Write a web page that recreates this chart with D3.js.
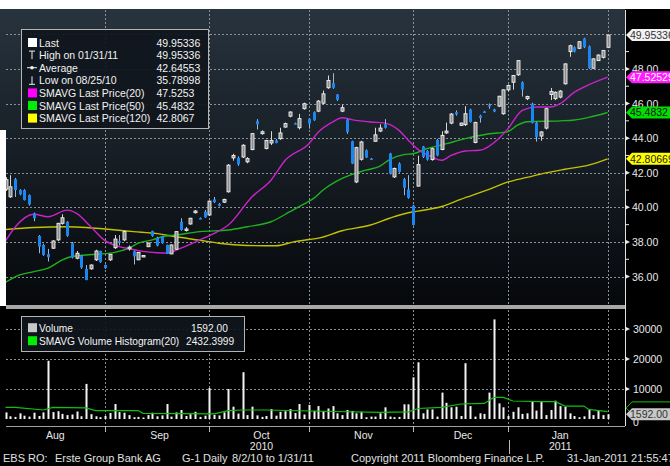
<!DOCTYPE html>
<html>
<head>
<meta charset="utf-8">
<title>EBS RO Equity</title>
<script src="https://cdn.jsdelivr.net/npm/d3@7"></script>
<style>
    body { margin: 0; background: #fff; }
    svg { display: block; font-family: "Liberation Sans", Arial, sans-serif; }
</style>
</head>
<body>
<svg id="chart" width="670" height="466"></svg>
<script>
// trading days per month, Aug 2010 .. Jan 2011
const months = ['Aug', 'Sep', 'Oct', 'Nov', 'Dec', 'Jan'];
const monthDays = [22, 22, 21, 22, 20, 21];
const yearLabels = [{ text: '2010', month: 2 }, { text: '2011', month: 5 }];

const open = [
    41.05, 40.61, 41.63, 41.0, 41.0, 40.71, 39.65, 38.35, 37.83, 37.3,
    37.64, 38.12, 39.08, 39.17, 37.93, 37.06, 37.21, 36.45, 36.45, 36.97,
    37.48, 36.67, 36.97, 37.67, 38.05, 38.12, 37.6, 37.46, 36.97, 37.2,
    37.73, 38.64, 38.24, 38.33, 37.83, 37.31, 37.58, 39.17, 38.7, 39.04,
    39.69, 39.38, 39.75, 39.56, 40.46, 40.2, 40.3, 40.9, 42.86, 42.86,
    42.91, 42.63, 43.34, 44.99, 44.26, 43.4, 43.72, 43.87, 43.97, 44.64,
    45.27, 44.86, 44.6, 45.7, 45.12, 45.5, 45.56, 46.02, 46.91, 47.17,
    46.52, 45.56, 45.07, 43.82, 41.47, 42.78, 43.3, 42.82, 43.82, 44.41,
    44.8, 43.11, 41.76, 42.53, 41.63, 41.03, 40.1, 41.23, 43.52, 43.26,
    42.76, 43.9, 43.34, 44.3, 44.87, 45.5, 44.74, 44.78, 45.66, 43.75,
    45.3, 45.54, 45.93, 45.66, 45.85, 45.41, 46.79, 47.23, 47.66, 47.23,
    46.28, 45.99, 44.89, 44.12, 44.58, 46.52, 46.28, 46.37, 47.14, 49.0,
    49.25, 49.19, 49.76, 49.3, 48.04, 48.48, 48.67, 49.25
];
const high = [
    41.75, 41.86, 41.7, 41.05, 41.05, 40.75, 39.7, 38.4, 37.9, 37.6,
    38.1, 39.1, 39.6, 39.2, 38.0, 37.48, 37.25, 36.67, 36.7, 37.55,
    37.5, 36.7, 37.3, 38.4, 38.4, 38.65, 37.8, 37.5, 37.4, 37.25,
    37.95, 38.65, 38.3, 38.35, 37.85, 37.85, 38.62, 39.37, 38.86, 39.4,
    39.85, 39.42, 39.85, 40.4, 40.6, 40.25, 40.5, 42.5, 43.1, 42.95,
    43.65, 42.9, 44.3, 45.1, 44.45, 43.9, 44.4, 43.95, 44.6, 44.9,
    45.55, 44.9, 45.4, 46.05, 45.15, 45.55, 46.2, 46.75, 47.62, 47.75,
    46.55, 45.95, 45.1, 43.85, 43.5, 43.85, 43.35, 42.85, 44.6, 44.8,
    45.1, 43.15, 42.3, 42.6, 41.7, 41.86, 40.15, 42.99, 43.55, 43.3,
    43.45, 43.95, 44.4, 44.9, 45.45, 45.6, 44.9, 45.85, 45.7, 44.95,
    45.35, 45.58, 46.0, 45.7, 46.45, 46.82, 47.1, 47.65, 48.5, 47.28,
    46.45, 46.05, 44.95, 44.4, 45.75, 46.9, 46.7, 46.78, 48.32, 49.4,
    49.3, 49.6, 49.8, 49.35, 48.62, 48.85, 49.1, 49.95336
];
const low = [
    40.95, 40.55, 40.6, 40.7, 40.4, 40.1, 39.2, 37.35, 37.2, 36.87,
    37.6, 38.05, 39.0, 38.3, 37.05, 37.0, 36.45, 35.79, 36.4, 36.9,
    36.8, 36.45, 36.9, 37.6, 37.8, 38.05, 37.5, 36.7, 36.95, 37.15,
    37.7, 38.3, 37.75, 37.9, 37.3, 37.3, 37.55, 38.65, 38.6, 39.0,
    39.65, 39.33, 39.4, 39.5, 40.25, 40.05, 40.25, 40.85, 42.7, 42.4,
    42.85, 42.55, 43.3, 44.5, 44.2, 43.35, 43.6, 43.7, 43.9, 44.6,
    45.2, 44.8, 44.5, 45.65, 44.55, 45.0, 45.5, 45.95, 46.85, 46.85,
    46.15, 45.5, 44.25, 42.5, 41.4, 42.7, 42.85, 42.75, 43.8, 44.35,
    44.55, 41.9, 41.7, 42.0, 40.7, 40.5, 38.95, 41.2, 42.85, 42.7,
    42.7, 42.95, 43.3, 44.25, 44.8, 45.3, 44.7, 44.7, 44.9, 43.7,
    44.9, 45.48, 45.7, 45.5, 45.8, 45.35, 46.7, 46.8, 47.6, 46.4,
    46.2, 44.85, 43.8, 43.85, 44.5, 46.2, 46.2, 46.3, 47.1, 48.7,
    48.95, 49.15, 49.2, 48.0, 48.0, 48.45, 48.6, 49.2
];
const close = [
    41.6, 41.19, 41.0, 40.75, 40.42, 40.17, 39.37, 37.73, 37.25, 37.12,
    38.06, 39.08, 39.4, 38.36, 37.1, 37.35, 36.52, 35.8, 36.67, 37.48,
    36.83, 36.49, 37.29, 38.17, 37.98, 38.6, 37.7, 37.17, 37.39, 37.22,
    37.94, 38.35, 37.79, 37.93, 37.31, 37.83, 38.6, 38.69, 38.75, 39.37,
    39.79, 39.36, 39.42, 40.36, 40.3, 40.1, 40.46, 42.44, 43.0, 42.49,
    43.59, 42.82, 44.26, 44.8, 44.37, 43.87, 43.87, 43.72, 44.3, 44.84,
    45.51, 44.84, 45.13, 45.99, 44.84, 45.03, 46.14, 46.56, 47.33, 46.91,
    46.22, 45.76, 44.35, 42.53, 43.45, 43.78, 42.88, 42.78, 44.19, 44.58,
    44.6, 41.96, 42.25, 42.05, 41.13, 40.55, 38.98, 42.47, 42.91, 42.76,
    43.39, 43.0, 44.16, 44.41, 45.39, 45.37, 44.87, 45.41, 44.93, 44.9,
    45.16, 45.5, 45.83, 45.54, 46.42, 46.79, 47.04, 47.62, 48.48, 46.81,
    46.41, 44.89, 44.06, 44.36, 45.7, 46.7, 46.65, 46.72, 48.29, 49.34,
    49.0, 49.57, 49.25, 48.04, 48.58, 48.8, 49.06, 49.95336
];
const volume = [
    2200, 900, 700, 1900, 1100, 800, 2100, 1000, 2200, 19400,
    2300, 2600, 1700, 1300, 1500, 2500, 900, 11700, 1600, 900,
    600, 1000, 2000, 5000, 2300, 2100, 1300, 600, 700, 500,
    1300, 2100, 900, 1200, 5000, 800, 2200, 3000, 1000, 1600,
    2400, 700, 1100, 10300, 1400, 1200, 2200, 10000, 4100, 1800,
    15600, 1300, 4100, 1200, 700, 1000, 3300, 1100, 2400, 2600,
    3300, 2000, 5000, 1500, 4700, 2700, 4300, 2600, 3500, 4300,
    1900, 1300, 3000, 2700, 1900, 2400, 600, 800, 800, 1900,
    3900, 800, 600, 700, 4900, 4900, 13900, 18900, 1900, 3200,
    3200, 800, 8800, 5400, 3900, 4100, 1000, 18600, 4300, 800,
    1900, 1700, 8800, 33200, 5200, 3900, 1000, 2400, 3900, 1700,
    1900, 5800, 2800, 6000, 1300, 3000, 6100, 4300, 4100, 1900,
    1000, 600, 900, 3000, 1300, 2800, 1300, 1592
];

// moving averages: [day index, value]
const sma20 = [
    [0, 38.05], [2, 38.85], [6, 39.6], [9, 39.46], [13, 39.84], [15, 39.65], [18, 38.88],
    [21, 38.08], [24, 37.73], [26, 37.62], [29, 37.46], [32, 37.38], [34, 37.36], [37, 37.64],
    [41, 38.12], [44, 38.5], [47, 38.98], [52, 40.61], [56, 41.57], [59, 42.72], [64, 43.68],
    [66, 44.35], [69, 44.93], [71, 45.18], [73, 45.07], [77, 44.93], [80, 44.87], [83, 44.45],
    [85, 43.87], [87, 43.35], [90, 42.91], [92, 42.72], [94, 43.0], [97, 43.26], [100, 43.3],
    [104, 43.97], [106, 44.55], [109, 45.6], [112, 45.8], [115, 45.8], [117, 46.0],
    [120, 46.66], [123, 47.08], [127, 47.5253]
];
const sma50 = [
    [0, 35.67], [3, 36.1], [6, 36.29], [9, 36.49], [12, 36.97], [14, 37.16], [17, 37.25],
    [20, 37.3], [23, 37.4], [26, 37.64], [28, 37.93], [31, 38.12], [33, 38.3], [36, 38.4],
    [41, 38.6], [47, 38.69], [51, 38.88], [56, 39.17], [60, 39.75], [63, 40.2], [65, 40.52],
    [67, 41.0], [71, 41.67], [76, 42.15], [79, 42.38], [81, 42.76], [84, 43.05], [86, 43.1],
    [89, 43.4], [93, 43.68], [97, 43.97], [102, 44.25], [106, 44.38], [108, 44.75],
    [110, 44.95], [117, 45.0], [120, 45.05], [123, 45.2], [127, 45.4832]
];
const sma120 = [
    [0, 38.72], [6, 38.84], [13, 38.88], [17, 38.84], [21, 38.75], [27, 38.6], [32, 38.48],
    [36, 38.3], [41, 38.1], [45, 37.93], [51, 37.8], [57, 37.78], [61, 38.02], [64, 38.14],
    [66, 38.22], [71, 38.65], [77, 38.98], [81, 39.37], [85, 39.69], [87, 39.78], [92, 40.05],
    [96, 40.46], [102, 41.04], [106, 41.47], [110, 41.73], [114, 41.99], [118, 42.2],
    [123, 42.44], [127, 42.8067]
];
const volSma20 = [
    [0, 3900], [2, 3900], [8, 3000], [10, 3900], [17, 3700], [19, 2800], [28, 2800],
    [29, 1900], [44, 1700], [47, 2800], [50, 3000], [55, 3000], [69, 2500], [79, 2200],
    [85, 2400], [87, 3500], [92, 3900], [96, 5000], [101, 5200], [103, 7200], [105, 7200],
    [107, 6000], [113, 5800], [116, 5800], [118, 4300], [122, 4300], [123, 3200], [127, 2432.4]
];

const priceTicks = [36, 38, 40, 42, 44, 46, 48];
const priceMinor = [37, 39, 41, 43, 45, 47, 49];
const priceGrid = [36, 38, 40, 42, 44, 46, 48, 50];
const volumeTicks = [10000, 20000, 30000];

const legendRows = [
    { key: 'box', color: '#ffffff', label: 'Last', value: '49.95336' },
    { key: 'high', label: 'High on 01/31/11', value: '49.95336' },
    { key: 'avg', label: 'Average', value: '42.64553' },
    { key: 'low', label: 'Low on 08/25/10', value: '35.78998' },
    { key: 'box', color: '#ff00ff', label: 'SMAVG Last Price(20)', value: '47.5253' },
    { key: 'box', color: '#00ee00', label: 'SMAVG Last Price(50)', value: '45.4832' },
    { key: 'box', color: '#ffff00', label: 'SMAVG Last Price(120)', value: '42.8067' }
];
const volLegendRows = [
    { color: '#c8c8c8', label: 'Volume', value: '1592.00', vx: 191 },
    { color: '#00ee00', label: 'SMAVG Volume Histogram(20)', value: '2432.3999', vx: 186 }
];
const tags = [
    { value: 49.95336, text: '49.95336', fill: '#f2f2f2', color: '#333' },
    { value: 47.52529, text: '47.52529', fill: '#ff1cff', color: '#fff' },
    { value: 45.4832, text: '45.4832', fill: '#00e000', color: '#111' },
    { value: 42.80669, text: '42.80669', fill: '#ffff00', color: '#222' }
];
const footer = [
    [3, 'EBS'], [28, 'RO:'], [55, 'Erste Group Bank AG'], [182, 'G-1'], [203, 'Daily'],
    [232, '8/2/10 to 1/31/11'], [351, 'Copyright 2011 Bloomberg Finance L.P.'], [567, '31-Jan-2011 21:55:47']
];

const svg = d3.select('#chart');
const axisX = 625;
const priceTop = 10, priceBottom = 306;
const volTop = 309, volBottom = 426;
const magenta = '#cc22cc', green = '#1fb21f', yellow = '#c2c200';

const nDays = d3.sum(monthDays);
const monthEnds = Array.from(d3.cumsum(monthDays), c => c - 1);
const monthStarts = monthEnds.map((e, k) => e - monthDays[k] + 1);
const x = d3.scaleLinear().domain([0, nDays - 1]).range([5.5, 607.6]);
const yP = d3.scaleLinear().domain([36, 50]).range([276.6, 34.3]);
const yV = d3.scaleLinear().domain([0, 30000]).range([419, 329]);

// background
svg.append('rect').attr('width', 670).attr('height', 466).attr('fill', '#000');
svg.append('rect').attr('width', 670).attr('height', priceTop - 1).attr('fill', '#fff');

const defs = svg.append('defs');
const grad = defs.append('linearGradient').attr('id', 'bg').attr('x1', 0).attr('y1', 0).attr('x2', 0).attr('y2', 1);
grad.append('stop').attr('offset', '0%').attr('stop-color', '#27333e');
grad.append('stop').attr('offset', '100%').attr('stop-color', '#06080b');
defs.append('clipPath').attr('id', 'clipP')
    .append('rect').attr('x', 6).attr('y', priceTop).attr('width', axisX - 6).attr('height', priceBottom - priceTop);

svg.append('rect')
    .attr('x', 0).attr('y', priceTop - 1)
    .attr('width', axisX).attr('height', priceBottom - priceTop + 1)
    .attr('fill', 'url(#bg)');
svg.append('rect').attr('x', 0).attr('y', 130).attr('width', 6).attr('height', priceBottom - 130).attr('fill', '#fff');

// grid
const grid = svg.append('g').attr('stroke', '#8a9199').attr('stroke-dasharray', '2,2').attr('stroke-width', 1);
grid.selectAll('.hp').data(priceGrid).join('line')
    .attr('x1', 6).attr('x2', axisX)
    .attr('y1', d => Math.round(yP(d)) + 0.5).attr('y2', d => Math.round(yP(d)) + 0.5);
grid.selectAll('.hv').data(volumeTicks).join('line')
    .attr('x1', 6).attr('x2', axisX)
    .attr('y1', d => Math.round(yV(d)) + 0.5).attr('y2', d => Math.round(yV(d)) + 0.5);
grid.selectAll('.vm').data(monthEnds).join('line')
    .attr('x1', d => Math.round(x(d)) + 0.5).attr('x2', d => Math.round(x(d)) + 0.5)
    .attr('y1', priceTop).attr('y2', volBottom);

// moving averages
const plot = svg.append('g').attr('clip-path', 'url(#clipP)');
const line = d3.line().x(d => x(d[0])).y(d => yP(d[1])).curve(d3.curveMonotoneX);
[[sma120, yellow], [sma50, green], [sma20, magenta]].forEach(([data, color]) => {
    plot.append('path').datum(data)
        .attr('d', line).attr('fill', 'none')
        .attr('stroke', color).attr('stroke-width', 1.4);
});

// candles
const days = d3.range(nDays);
const up = i => close[i] >= open[i];
plot.selectAll('.wick').data(days).join('line')
    .attr('x1', i => Math.round(x(i)) + 0.5).attr('x2', i => Math.round(x(i)) + 0.5)
    .attr('y1', i => yP(high[i])).attr('y2', i => yP(low[i]))
    .attr('stroke', i => up(i) ? '#d8d8d8' : '#9fb8d8').attr('stroke-width', 1);
plot.selectAll('.body').data(days).join('rect')
    .attr('x', i => Math.round(x(i)) - 1)
    .attr('y', i => yP(Math.max(open[i], close[i])))
    .attr('width', 3)
    .attr('height', i => Math.max(1.5, Math.abs(yP(open[i]) - yP(close[i]))))
    .attr('fill', i => up(i) ? '#8c8c8c' : '#1a86f2')
    .attr('stroke', i => up(i) ? '#f2f2f2' : 'none')
    .attr('stroke-width', 0.9);

// volume panel
svg.append('rect').attr('x', 6).attr('y', 305).attr('width', axisX - 6).attr('height', 4).attr('fill', '#a8a8a8');
svg.append('g').selectAll('rect').data(days).join('rect')
    .attr('x', i => Math.round(x(i)) - 0.5)
    .attr('y', i => yV(volume[i]))
    .attr('width', 2)
    .attr('height', i => yV(0) - yV(volume[i]))
    .attr('fill', '#f4f4f4');
svg.append('path').datum(volSma20)
    .attr('d', d3.line().x(d => x(d[0])).y(d => yV(d[1])))
    .attr('fill', 'none').attr('stroke', '#10c010').attr('stroke-width', 1.2);

// frame
svg.append('line').attr('x1', axisX + 0.5).attr('x2', axisX + 0.5).attr('y1', priceTop).attr('y2', volBottom)
    .attr('stroke', '#e0e0e0');
svg.append('line').attr('x1', 6).attr('x2', axisX).attr('y1', volBottom + 0.5).attr('y2', volBottom + 0.5)
    .attr('stroke', '#a0a0a0');

// right axes
const axisFont = 10.5;
const ax = svg.append('g').attr('fill', '#e8e8e8').attr('font-size', axisFont);
ax.selectAll('.pt').data(priceTicks).join('path')
    .attr('d', d => `M${axisX},${yP(d) - 2.5}L${axisX + 5},${yP(d)}L${axisX},${yP(d) + 2.5}Z`);
ax.selectAll('.pm').data(priceMinor).join('line')
    .attr('x1', axisX).attr('x2', axisX + 4)
    .attr('y1', d => yP(d)).attr('y2', d => yP(d))
    .attr('stroke', '#e8e8e8');
ax.selectAll('.pl').data(priceTicks).join('text')
    .attr('x', 632).attr('y', d => yP(d) + 4)
    .text(d => d3.format('.2f')(d));
ax.selectAll('.vt').data(volumeTicks).join('path')
    .attr('d', d => `M${axisX},${yV(d) - 2.5}L${axisX + 5},${yV(d)}L${axisX},${yV(d) + 2.5}Z`);
ax.selectAll('.vl').data(volumeTicks).join('text')
    .attr('x', 633).attr('y', d => yV(d) + 4)
    .text(d => d);
ax.append('text').attr('x', 633).attr('y', yV(0) + 7).text('0');

// value tags
function tag(g, y, fill, text, color, stroke) {
    g.append('path')
        .attr('d', `M${axisX + 1},${y}L${axisX + 7},${y - 6}L672,${y - 6}L672,${y + 6}L${axisX + 7},${y + 6}Z`)
        .attr('fill', fill).attr('stroke', stroke || 'none');
    if (text) {
        g.append('text').attr('x', 630).attr('y', y + 4)
            .attr('fill', color).attr('font-size', axisFont).text(text);
    }
}
const tg = svg.append('g');
tags.forEach(t => tag(tg, yP(t.value), t.fill, t.text, t.color));
tag(tg, yV(3700), '#000', '', '#000', '#10c010');
tag(tg, yV(1592), '#c8c8c8', '1592.00', '#333');

// x axis
const xa = svg.append('g').attr('fill', '#e8e8e8').attr('font-size', 10.5).attr('text-anchor', 'middle');
xa.selectAll('.ml').data(months).join('text')
    .attr('x', (m, k) => x((monthStarts[k] + monthEnds[k]) / 2))
    .attr('y', 439)
    .text(m => m);
xa.selectAll('.yl').data(yearLabels).join('text')
    .attr('x', d => x((monthStarts[d.month] + monthEnds[d.month]) / 2))
    .attr('y', 449.5)
    .text(d => d.text);
svg.append('g').attr('stroke', '#bbb').selectAll('line').data(monthEnds.slice(0, -1)).join('line')
    .attr('x1', d => Math.round(x(d)) + 0.5).attr('x2', d => Math.round(x(d)) + 0.5)
    .attr('y1', volBottom).attr('y2', volBottom + 6);
svg.append('line')
    .attr('x1', Math.round(x(monthEnds[4] + 0.2)) + 0.5).attr('x2', Math.round(x(monthEnds[4] + 0.2)) + 0.5)
    .attr('y1', 440).attr('y2', 454).attr('stroke', '#bbb');

// legends
function legendBox(x0, y0, w, h, size) {
    svg.append('rect').attr('x', x0 + 0.5).attr('y', y0 + 0.5).attr('width', w).attr('height', h)
        .attr('fill', '#10161c').attr('fill-opacity', 0.92).attr('stroke', '#b4b4b4');
    return svg.append('g').attr('font-size', size).attr('fill', '#f2f2f2');
}
const lg = legendBox(21, 29, 187, 99, 10.5);
legendRows.forEach((r, k) => {
    const cy = 42.5 + k * 12.6;
    if (r.key === 'box') {
        lg.append('rect').attr('x', 28).attr('y', cy - 4.5).attr('width', 9).attr('height', 9).attr('fill', r.color);
    } else if (r.key === 'high') {
        lg.append('path').attr('d', `M29,${cy - 4}H35M32,${cy - 4}V${cy + 4}`).attr('stroke', '#eee').attr('fill', 'none');
    } else if (r.key === 'low') {
        lg.append('path').attr('d', `M29,${cy + 4}H35M32,${cy - 4}V${cy + 4}`).attr('stroke', '#eee').attr('fill', 'none');
    } else {
        lg.append('path').attr('d', `M27,${cy}H37`).attr('stroke', '#eee');
        lg.append('circle').attr('cx', 32).attr('cy', cy).attr('r', 1.8).attr('fill', '#eee');
    }
    lg.append('text').attr('x', 39).attr('y', cy + 4).text(r.label);
    lg.append('text').attr('x', 156.5).attr('y', cy + 4).text(r.value);
});
const vlg = legendBox(21, 316, 223, 35, 10.2);
volLegendRows.forEach((r, k) => {
    const cy = 327.7 + k * 13;
    vlg.append('rect').attr('x', 28).attr('y', cy - 4.5).attr('width', 9).attr('height', 9).attr('fill', r.color);
    vlg.append('text').attr('x', 39).attr('y', cy + 4).text(r.label);
    vlg.append('text').attr('x', r.vx).attr('y', cy + 4).text(r.value);
});

// footer
const ft = svg.append('g').attr('font-size', 11).attr('fill', '#e0e0e0');
footer.forEach(([px, t]) => ft.append('text').attr('x', px).attr('y', 462).text(t));
</script>
</body>
</html>
